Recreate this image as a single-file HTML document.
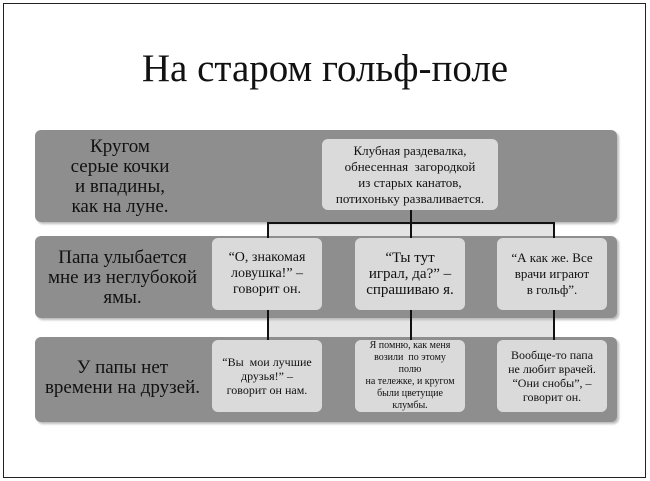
<!DOCTYPE html>
<html><head><meta charset="utf-8"><style>
body{margin:0;width:650px;height:481px;background:#fff;position:relative;overflow:hidden;font-family:"Liberation Serif",serif;}
.frame{position:absolute;left:3px;top:3px;width:641px;height:473px;border:1.5px solid #222;}
.title{position:absolute;left:0;width:650px;top:46px;text-align:center;font-size:39px;color:#111;}
.band{position:absolute;left:35px;width:582px;background:#8e8e8e;border-radius:6px;box-shadow:2px 2px 2px #bbb;}
.lt{position:absolute;text-align:center;color:#111;font-size:19px;line-height:20px;}
.box{position:absolute;background:#dadada;border-radius:6px;display:flex;align-items:center;justify-content:center;text-align:center;color:#111;font-size:14px;line-height:16px;}
.gap{position:absolute;background:#e4e4e4;}
.v{position:absolute;width:1.5px;background:#111;}
.h{position:absolute;height:1.5px;background:#111;}
</style></head><body>
<div class="frame"></div>
<div class="title">На старом гольф-поле</div>
<div class="gap" style="left:267px;top:220px;width:286px;height:17px"></div>
<div class="gap" style="left:267px;top:316px;width:286px;height:23px"></div>
<div class="band" style="top:130px;height:92px"></div>
<div class="band" style="top:236px;height:82px"></div>
<div class="band" style="top:337px;height:85px"></div>
<div class="h" style="left:267px;top:222px;width:287px"></div>
<div class="v" style="left:410px;top:208px;height:132px"></div>
<div class="v" style="left:267px;top:222px;height:118px"></div>
<div class="v" style="left:553px;top:222px;height:118px"></div>
<div class="lt" style="left:50px;width:140px;top:137px">Кругом<br>серые кочки<br>и впадины,<br>как на луне.</div>
<div class="lt" style="left:40px;width:165px;top:248px">Папа улыбается<br>мне из неглубокой<br>ямы.</div>
<div class="lt" style="left:40px;width:165px;top:358px">У папы нет<br>времени на друзей.</div>
<div class="box" style="left:322px;top:139px;width:176px;height:71px;font-size:13px">Клубная раздевалка,<br>обнесенная&nbsp; загородкой<br>из старых канатов,<br>потихоньку разваливается.</div>
<div class="box" style="left:212px;top:238px;width:110px;height:72px;font-size:14px">“О, знакомая<br>ловушка!” –<br>говорит он.</div>
<div class="box" style="left:355px;top:238px;width:110px;height:72px;font-size:15px">“Ты тут<br>играл, да?” –<br>спрашиваю я.</div>
<div class="box" style="left:497px;top:238px;width:110px;height:72px;font-size:13px">“А как же. Все<br>врачи играют<br>в гольф”.</div>
<div class="box" style="left:212px;top:340px;width:110px;height:72px;font-size:12px;line-height:14px">“Вы&nbsp; мои лучшие<br>друзья!” –<br>говорит он нам.</div>
<div class="box" style="left:355px;top:340px;width:110px;height:72px;font-size:10px;line-height:12px">Я помню, как меня<br>возили&nbsp; по этому<br>полю<br>на тележке, и кругом<br>были цветущие<br>клумбы.</div>
<div class="box" style="left:497px;top:340px;width:110px;height:72px;font-size:12px;line-height:14px">Вообще-то папа<br>не любит врачей.<br>“Они снобы”, –<br>говорит он.</div>
</body></html>
